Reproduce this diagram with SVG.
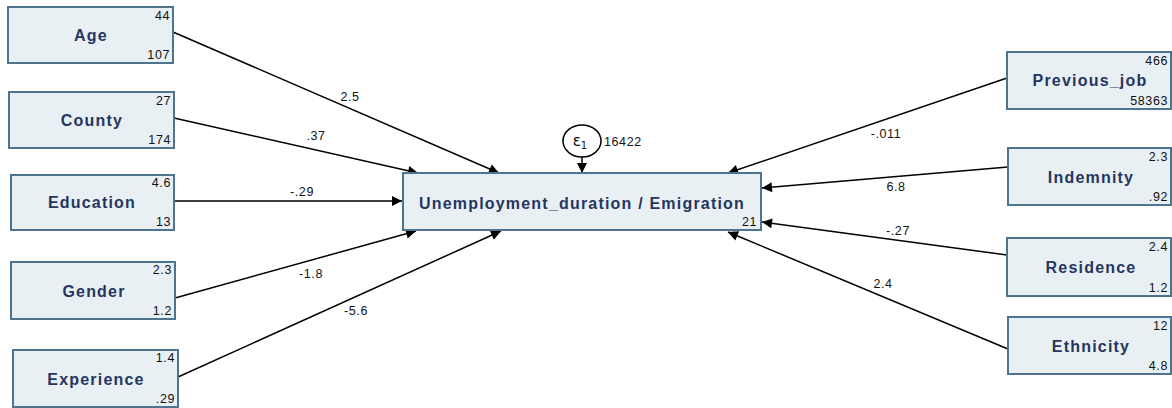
<svg xmlns="http://www.w3.org/2000/svg" width="1172" height="408" viewBox="0 0 1172 408">
<style>
.box{fill:#e9f0f3;stroke:#4f7490;stroke-width:2}
.lbl{font-family:"Liberation Sans",Arial,sans-serif;font-weight:bold;font-size:16px;letter-spacing:1.2px;fill:#253660;text-anchor:middle}
.num{font-family:"Liberation Sans",Arial,sans-serif;font-size:12.5px;letter-spacing:0.6px;fill:#111;text-anchor:end}
.coef{font-family:"Liberation Sans",Arial,sans-serif;font-size:12.5px;letter-spacing:0.6px;fill:#111;text-anchor:middle}
.edge{stroke:#000;stroke-width:1.5;fill:none;marker-end:url(#arr)}
</style>
<defs>
<marker id="arr" viewBox="0 0 10 10" refX="10" refY="5" markerWidth="14" markerHeight="10" markerUnits="userSpaceOnUse" orient="auto"><path d="M0,0 L10,5 L0,10 z" fill="#000"/></marker>
</defs>
<g id="connectors">
<path class="edge" d="M173,32 L499,173"/>
<path class="edge" d="M174,118 L418,173"/>
<path class="edge" d="M174,201 L402,201"/>
<path class="edge" d="M175,298 L416,231"/>
<path class="edge" d="M178,377 L501,231"/>
<path class="edge" d="M1007,78 L728,173"/>
<path class="edge" d="M1008,167 L762,188"/>
<path class="edge" d="M1007,255 L762,222"/>
<path class="edge" d="M1008,349 L728,232"/>
<path class="edge" d="M582,157 L582,173"/>
<text class="coef" x="350" y="101">2.5</text>
<text class="coef" x="316" y="140">.37</text>
<text class="coef" x="302" y="196">-.29</text>
<text class="coef" x="311" y="278">-1.8</text>
<text class="coef" x="356" y="315">-5.6</text>
<text class="coef" x="886" y="138">-.011</text>
<text class="coef" x="896" y="191">6.8</text>
<text class="coef" x="898" y="235">-.27</text>
<text class="coef" x="883" y="288">2.4</text>
</g>
<g id="err">
<ellipse cx="582" cy="141" rx="19" ry="16" fill="#fff" stroke="#000" stroke-width="1.5"/>
<text x="580" y="146" font-family="'DejaVu Sans',sans-serif" font-size="15" text-anchor="middle" fill="#111">ε<tspan font-size="10" dy="3">1</tspan></text>
<text class="num" x="604" y="146" style="text-anchor:start">16422</text>
</g>
<g id="main">
<rect class="box" x="403" y="173" width="358" height="57"/>
<text class="lbl" x="582" y="209">Unemployment_duration / Emigration</text>
<text class="num" x="757" y="226">21</text>
</g>
<g id="age">
<rect class="box" x="8" y="7" width="165" height="56"/>
<text class="lbl" x="91" y="41">Age</text>
<text class="num" x="170" y="20">44</text>
<text class="num" x="170" y="59">107</text>
</g>
<g id="county">
<rect class="box" x="9" y="92" width="165" height="56"/>
<text class="lbl" x="92" y="126">County</text>
<text class="num" x="171" y="105">27</text>
<text class="num" x="171" y="144">174</text>
</g>
<g id="education">
<rect class="box" x="11" y="175" width="163" height="55"/>
<text class="lbl" x="92" y="208">Education</text>
<text class="num" x="171" y="187">4.6</text>
<text class="num" x="171" y="226">13</text>
</g>
<g id="gender">
<rect class="box" x="11" y="262" width="164" height="57"/>
<text class="lbl" x="94" y="297">Gender</text>
<text class="num" x="172" y="274">2.3</text>
<text class="num" x="172" y="315">1.2</text>
</g>
<g id="experience">
<rect class="box" x="13" y="350" width="165" height="57"/>
<text class="lbl" x="96" y="385">Experience</text>
<text class="num" x="175" y="362">1.4</text>
<text class="num" x="175" y="403">.29</text>
</g>
<g id="previous_job">
<rect class="box" x="1007" y="52" width="164" height="57"/>
<text class="lbl" x="1090" y="86">Previous_job</text>
<text class="num" x="1168" y="65">466</text>
<text class="num" x="1168" y="105">58363</text>
</g>
<g id="indemnity">
<rect class="box" x="1008" y="148" width="163" height="57"/>
<text class="lbl" x="1091" y="183">Indemnity</text>
<text class="num" x="1168" y="161">2.3</text>
<text class="num" x="1168" y="201">.92</text>
</g>
<g id="residence">
<rect class="box" x="1007" y="238" width="164" height="58"/>
<text class="lbl" x="1091" y="273">Residence</text>
<text class="num" x="1168" y="251">2.4</text>
<text class="num" x="1168" y="292">1.2</text>
</g>
<g id="ethnicity">
<rect class="box" x="1008" y="317" width="163" height="57"/>
<text class="lbl" x="1091" y="352">Ethnicity</text>
<text class="num" x="1168" y="330">12</text>
<text class="num" x="1168" y="370">4.8</text>
</g>
</svg>
